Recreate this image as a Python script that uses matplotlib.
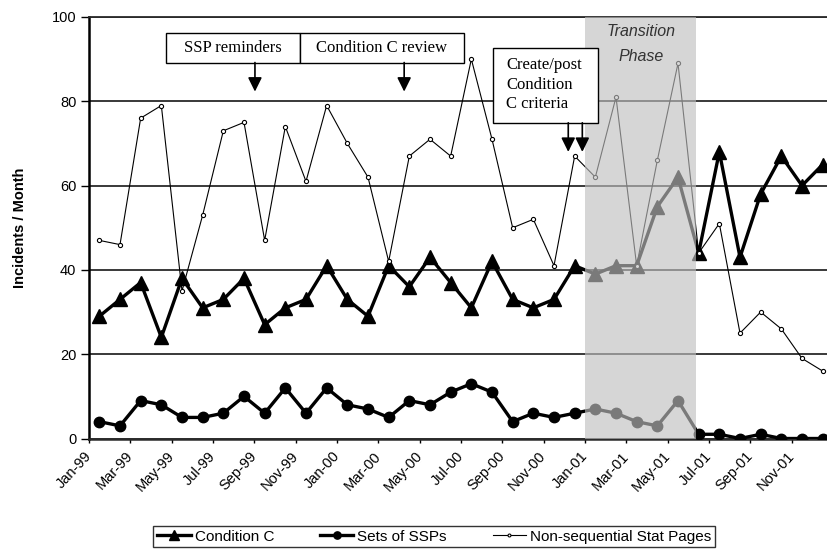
import matplotlib
matplotlib.use("Agg")
import matplotlib.pyplot as plt
from matplotlib.patches import Rectangle
import numpy as np

plt.rcParams['font.family'] = ['Liberation Sans', 'DejaVu Sans']

months = ['Jan-99', 'Feb-99', 'Mar-99', 'Apr-99', 'May-99', 'Jun-99',
          'Jul-99', 'Aug-99', 'Sep-99', 'Oct-99', 'Nov-99', 'Dec-99',
          'Jan-00', 'Feb-00', 'Mar-00', 'Apr-00', 'May-00', 'Jun-00',
          'Jul-00', 'Aug-00', 'Sep-00', 'Oct-00', 'Nov-00', 'Dec-00',
          'Jan-01', 'Feb-01', 'Mar-01', 'Apr-01', 'May-01', 'Jun-01',
          'Jul-01', 'Aug-01', 'Sep-01', 'Oct-01', 'Nov-01', 'Dec-01']

condition_c = [29, 33, 37, 24, 38, 31, 33, 38, 27, 31, 33, 41,
               33, 29, 41, 36, 43, 37, 31, 42, 33, 31, 33, 41,
               39, 41, 41, 55, 62, 44, 68, 43, 58, 67, 60, 65]

ssp_sets = [4, 3, 9, 8, 5, 5, 6, 10, 6, 12, 6, 12,
            8, 7, 5, 9, 8, 11, 13, 11, 4, 6, 5, 6,
            7, 6, 4, 3, 9, 1, 1, 0, 1, 0, 0, 0]

stat_pages = [47, 46, 76, 79, 35, 53, 73, 75, 47, 74, 61, 79,
              70, 62, 42, 67, 71, 67, 90, 71, 50, 52, 41, 67,
              62, 81, 41, 66, 89, 44, 51, 25, 30, 26, 19, 16]

x = np.arange(len(months))

fig = plt.figure(figsize=(8.27, 5.5), dpi=100)
ax = fig.add_axes([89 / 827, 111.5 / 550, 744 / 827, 421.5 / 550])

ax.plot(x, condition_c, color='black', lw=2.4, marker='^', ms=10.5,
        label='Condition C', zorder=3)
ax.plot(x, ssp_sets, color='black', lw=2.4, marker='o', ms=7.5,
        label='Sets of SSPs', zorder=3)
ax.plot(x, stat_pages, color='black', lw=0.8, marker='o', ms=3,
        mfc='white', mec='black', mew=0.8,
        label='Non-sequential Stat Pages', zorder=4)

# transition phase shading sits on top of the lines
ax.axvspan(23.5, 28.85, facecolor='#c0c0c0', alpha=0.64, lw=0, zorder=5)
ax.text(26.2, 96.5, 'Transition', style='italic', fontsize=11.5,
        ha='center', va='center', color='#333333', zorder=7)
ax.text(26.2, 90.7, 'Phase', style='italic', fontsize=11.5,
        ha='center', va='center', color='#333333', zorder=7)

ax.set_xlim(-0.5, 35.5)
ax.set_ylim(0, 100)
ax.set_yticks([0, 20, 40, 60, 80, 100])
ax.yaxis.grid(True, color='#2a2a2a', lw=1.3)
ax.set_axisbelow(True)

ax.set_xticks(np.arange(-0.5, 35, 2))
ax.set_xticklabels(months[::2], rotation=47, ha='right', va='center',
                   rotation_mode='anchor', fontsize=10.5)
ax.tick_params(axis='x', length=3, width=1, pad=8)
ax.tick_params(axis='y', length=6, width=1, pad=3, labelsize=10.5)

ax.spines['right'].set_visible(False)
ax.spines['left'].set_linewidth(1.8)
ax.spines['bottom'].set_linewidth(1.8)
ax.spines['bottom'].set_color('#2a2a2a')
ax.spines['top'].set_linewidth(1.3)
ax.spines['top'].set_color('#2a2a2a')

ax.set_ylabel('Incidents / Month', fontsize=10.5, fontweight='bold')
ax.yaxis.set_label_coords(-0.083, 0.5)

# note boxes with arrows pointing at the months they refer to
serif = ['Liberation Serif', 'DejaVu Serif']
notes = [
    (3.21, 9.7, 89.2, 96.3, 'SSP reminders'),
    (9.7, 17.64, 89.2, 96.3, 'Condition C review'),
]
for x0, x1, y0, y1, txt in notes:
    ax.add_patch(Rectangle((x0, y0), x1 - x0, y1 - y0, facecolor='white',
                           edgecolor='black', lw=1, zorder=8))
    ax.text((x0 + x1) / 2, (y0 + y1) / 2, txt, family=serif, fontsize=12,
            ha='center', va='center', zorder=9)

ax.add_patch(Rectangle((19.06, 74.9), 24.11 - 19.06, 92.7 - 74.9,
                       facecolor='white', edgecolor='black', lw=1, zorder=8))
ax.text(19.68, 83.9, 'Create/post\nCondition\nC criteria', family=serif,
        fontsize=12, ha='left', va='center', linespacing=1.3, zorder=9)

arrows = [(7.53, 89.2, 82.3), (14.75, 89.2, 82.3),
          (22.69, 74.9, 68.0), (23.37, 74.9, 68.0)]
for ax_x, y_from, y_to in arrows:
    ax.annotate('', xy=(ax_x, y_to), xytext=(ax_x, y_from),
                arrowprops=dict(arrowstyle='-|>,head_length=0.85,head_width=0.42',
                                color='black', lw=1.2, shrinkA=0, shrinkB=0),
                zorder=9)

leg = fig.legend(loc='center', bbox_to_anchor=(0.525, 0.0245), ncol=3,
                 fontsize=11, frameon=True, fancybox=False,
                 handlelength=2.2, handletextpad=0.25, columnspacing=3.0,
                 borderpad=0.25, borderaxespad=0, markerscale=0.7)
leg.get_frame().set_edgecolor('black')
leg.get_frame().set_linewidth(1.0)

fig.savefig('out.png', dpi=100)
